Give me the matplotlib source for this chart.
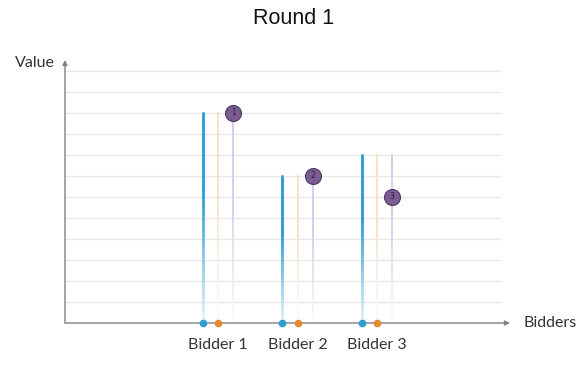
import matplotlib
matplotlib.use("Agg")
import matplotlib.pyplot as plt
from matplotlib.collections import LineCollection
from matplotlib.colors import to_rgb
import numpy as np

# values
bidders = ["Bidder 1", "Bidder 2", "Bidder 3"]
values = [10, 7, 8]          # bidder valuations (stem heights)
prices = [10, 7, 6]          # circle markers
ranks = ["1", "2", "3"]

BLUE = "#2b9fd1"
ORANGE = "#e38a2c"
PURPLE = "#7a5c92"
LAVENDER = "#9a6cc8"
LABEL_FONT = ["Lato", "DejaVu Sans"]


def fade_stem(ax, xpos, top, color, lw, max_alpha, n=80):
    """Vertical stem that fades out toward the baseline (blended on white)."""
    ys = np.linspace(0, top, n + 1)
    segs = [[(xpos, ys[i]), (xpos, ys[i + 1])] for i in range(n)]
    c = np.array(to_rgb(color))
    t = np.linspace(0, 1, n)
    alphas = max_alpha * (0.1 + 0.9 * np.clip(t * 1.6, 0, 1))
    cols = [tuple(1 - a * (1 - c)) for a in alphas]
    ax.add_collection(LineCollection(segs, colors=cols, linewidths=lw,
                                     capstyle="projecting", zorder=2))


fig = plt.figure(figsize=(5.87, 3.69), dpi=100)
ax = fig.add_axes([0.1107, 0.1247, 0.758, 0.7127])

x = np.arange(1, len(bidders) + 1)
off = 0.19

ax.set_xlim(-0.925, 4.67)
ax.set_ylim(0, 12.5)

# light grid
for g in range(1, 13):
    ax.plot([-0.925, 4.55], [g, g], color="#e8e8e8", lw=1, zorder=0)

for xi, v in zip(x, values):
    fade_stem(ax, xi - off, v, BLUE, 1.8, 1.0)
    fade_stem(ax, xi, v, ORANGE, 1.4, 0.25)
    fade_stem(ax, xi + off, v, LAVENDER, 1.4, 0.35)

ax.plot(x - off, [0] * 3, "o", color=BLUE, ms=4.5, zorder=4, clip_on=False)
ax.plot(x, [0] * 3, "o", color=ORANGE, ms=4.5, zorder=4, clip_on=False)
ax.plot(x + off, prices, "o", color=PURPLE, mec="#4e3a60", mew=0.8, ms=11.5, zorder=5)
for xi, p, r in zip(x + off, prices, ranks):
    ax.text(xi, p, r, ha="center", va="center", fontsize=5.5, color="#2d2040", zorder=6)

for s in ax.spines.values():
    s.set_visible(False)
ax.set_xticks([])
ax.set_yticks([])

ax.annotate("", xy=(1.0, 0), xytext=(0, 0), xycoords="axes fraction",
            arrowprops=dict(arrowstyle="-|>", color="#808080", lw=1,
                            mutation_scale=7, shrinkA=0, shrinkB=0))
ax.annotate("", xy=(0, 1.0), xytext=(0, 0), xycoords="axes fraction",
            arrowprops=dict(arrowstyle="-|>", color="#808080", lw=1,
                            mutation_scale=7, shrinkA=0, shrinkB=0))

for xi, name in zip(x, bidders):
    ax.text(xi, -0.7, name, ha="center", va="top", fontsize=11.5,
            color="#333333", family=LABEL_FONT)

ax.text(1.03, 0, "Bidders", transform=ax.transAxes, ha="left", va="center",
        fontsize=11.5, color="#333333", family=LABEL_FONT)
ax.text(-0.022, 0.99, "Value", transform=ax.transAxes, ha="right", va="center",
        fontsize=11.5, color="#333333", family=LABEL_FONT)

fig.text(0.5, 0.95, "Round 1", ha="center", va="center", fontsize=15.5,
         color="#111111", family=["Liberation Sans", "DejaVu Sans"])

fig.savefig("out.png", dpi=100)
